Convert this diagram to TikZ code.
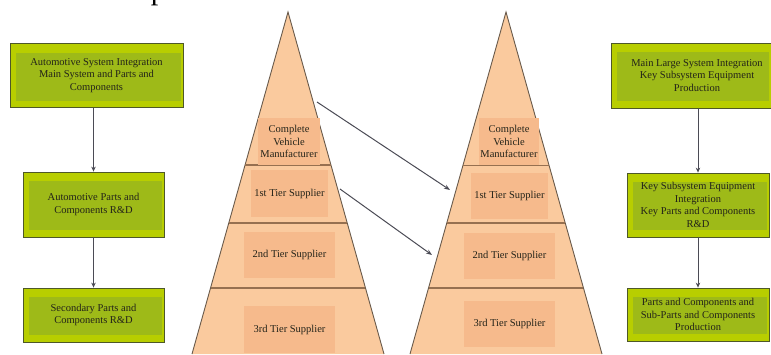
\documentclass[tikz,border=0pt]{standalone}
\usepackage{fontspec}
\setmainfont{Liberation Serif}
\usetikzlibrary{arrows.meta,calc}
\definecolor{gband}{RGB}{184,206,0}
\definecolor{ginner}{RGB}{158,186,24}
\definecolor{gborder}{RGB}{78,88,40}
\definecolor{peach}{RGB}{250,202,158}
\definecolor{plab}{RGB}{246,186,140}
\definecolor{pyedge}{RGB}{105,90,75}
\definecolor{pydiv}{RGB}{150,112,80}
\definecolor{arrgray}{RGB}{75,75,85}
\definecolor{txt}{RGB}{35,35,25}
\begin{document}
\begin{tikzpicture}[x=1pt,y=-1pt,
  gbox/.style={draw=gborder, line width=0.8pt, fill=gband, inner sep=0pt,
    align=center, text=txt, font=\fontsize{10.5}{12.5}\selectfont,
    path picture={\fill[ginner] ($(path picture bounding box.south west)+(6pt,7pt)$) rectangle ($(path picture bounding box.north east)+(-2pt,-9pt)$);}},
  plabel/.style={fill=plab, inner sep=0pt, align=center, text=txt,
    font=\fontsize{10.5}{12.5}\selectfont},
  vline/.style={draw=arrgray, line width=1.1pt, -{Stealth[length=5pt,width=4.5pt]}},
  rvline/.style={draw=arrgray, line width=0.8pt, -{Stealth[length=5pt,width=4.5pt]}},
  dline/.style={draw=arrgray, line width=1pt, -{Stealth[length=6pt,width=4.5pt]}},
  pyside/.style={draw=pyedge, line width=0.9pt},
  pydivline/.style={draw=pydiv, line width=1.6pt}
]
\useasboundingbox (0,0) rectangle (771,354);

% clipped caption line at the very top (only its lowest part is visible)
\node[anchor=base west, inner sep=0pt, text=black, font=\fontsize{30}{36}\selectfont] (cap) at (24,-0.5) {relationship between the two ends.};

% ---------- left pyramid ----------
\coordinate (LA) at (288,12);
\coordinate (LBL) at (192,354);
\coordinate (LBR) at (384,354);
\fill[peach] (LA) -- (LBR) -- (LBL) -- cycle;
\draw[pyside] (LBL) -- (LA) -- (LBR);
\draw[pydivline] ($(LA)!0.4474!(LBL)$) -- ($(LA)!0.4474!(LBR)$);
\draw[pydivline] ($(LA)!0.617!(LBL)$) -- ($(LA)!0.617!(LBR)$);
\draw[pydivline] ($(LA)!0.807!(LBL)$) -- ($(LA)!0.807!(LBR)$);
\node[plabel, minimum width=62pt, minimum height=47pt] (lc) at (289,141.5) {Complete\\Vehicle\\Manufacturer};
\node[plabel, minimum width=77pt, minimum height=47pt] (l1) at (289.5,193.5) {1st Tier Supplier};
\node[plabel, minimum width=91pt, minimum height=46pt] (l2) at (289.5,255) {2nd Tier Supplier};
\node[plabel, minimum width=91pt, minimum height=47pt] (l3) at (289.5,329.5) {3rd Tier Supplier};

% ---------- right pyramid ----------
\coordinate (RA) at (506,12);
\coordinate (RBL) at (410,354);
\coordinate (RBR) at (602,354);
\fill[peach] (RA) -- (RBR) -- (RBL) -- cycle;
\draw[pyside] (RBL) -- (RA) -- (RBR);
\draw[pydivline, line width=1pt] ($(RA)!0.4474!(RBL)$) -- ($(RA)!0.4474!(RBR)$);
\draw[pydivline] ($(RA)!0.617!(RBL)$) -- ($(RA)!0.617!(RBR)$);
\draw[pydivline] ($(RA)!0.807!(RBL)$) -- ($(RA)!0.807!(RBR)$);
\node[plabel, minimum width=60pt, minimum height=47pt] (rc) at (509,141.5) {Complete\\Vehicle\\Manufacturer};
\node[plabel, minimum width=77pt, minimum height=46pt] (r1t) at (509.5,196) {1st Tier Supplier};
\node[plabel, minimum width=91pt, minimum height=46pt] (r2t) at (509.5,256) {2nd Tier Supplier};
\node[plabel, minimum width=91pt, minimum height=46pt] (r3t) at (509.5,324) {3rd Tier Supplier};

% ---------- arrows between pyramids ----------
\coordinate (s1) at (317,102);
\coordinate (e1) at (450,190);
\coordinate (s2) at (340,189);
\coordinate (e2) at (432,255);
\draw[dline] (s1) -- (e1);
\draw[dline] (s2) -- (e2);

% ---------- left boxes ----------
\node[gbox, minimum width=173pt, minimum height=64pt] (b1) at (96.5,75.5) {Automotive System Integration\\Main System and Parts and\\Components};
\node[gbox, minimum width=141pt, minimum height=65pt] (b2) at (93.5,204.5) {Automotive Parts and\\Components R\&D};
\node[gbox, minimum width=141pt, minimum height=54pt] (b3) at (93.5,315) {Secondary Parts and\\Components R\&D};
\draw[vline] (b1.south -| b2.north) -- (b2.north);
\draw[vline] (b2.south) -- (b3.north);

% ---------- right boxes ----------
\node[gbox, minimum width=160pt, minimum height=65pt] (rb1) at (691,75.5) {\hspace*{12pt}Main Large System Integration\\\hspace*{12pt}Key Subsystem Equipment\\\hspace*{12pt}Production};
\node[gbox, minimum width=142pt, minimum height=64pt] (rb2) at (698,205) {Key Subsystem Equipment\\Integration\\Key Parts and Components\\R\&D};
\node[gbox, minimum width=142pt, minimum height=53pt] (rb3) at (698,314.5) {Parts and Components and\\Sub-Parts and Components\\Production};
\draw[rvline] (rb1.south -| rb2.north) -- (rb2.north);
\draw[rvline] (rb2.south) -- (rb3.north);
\end{tikzpicture}
\end{document}
